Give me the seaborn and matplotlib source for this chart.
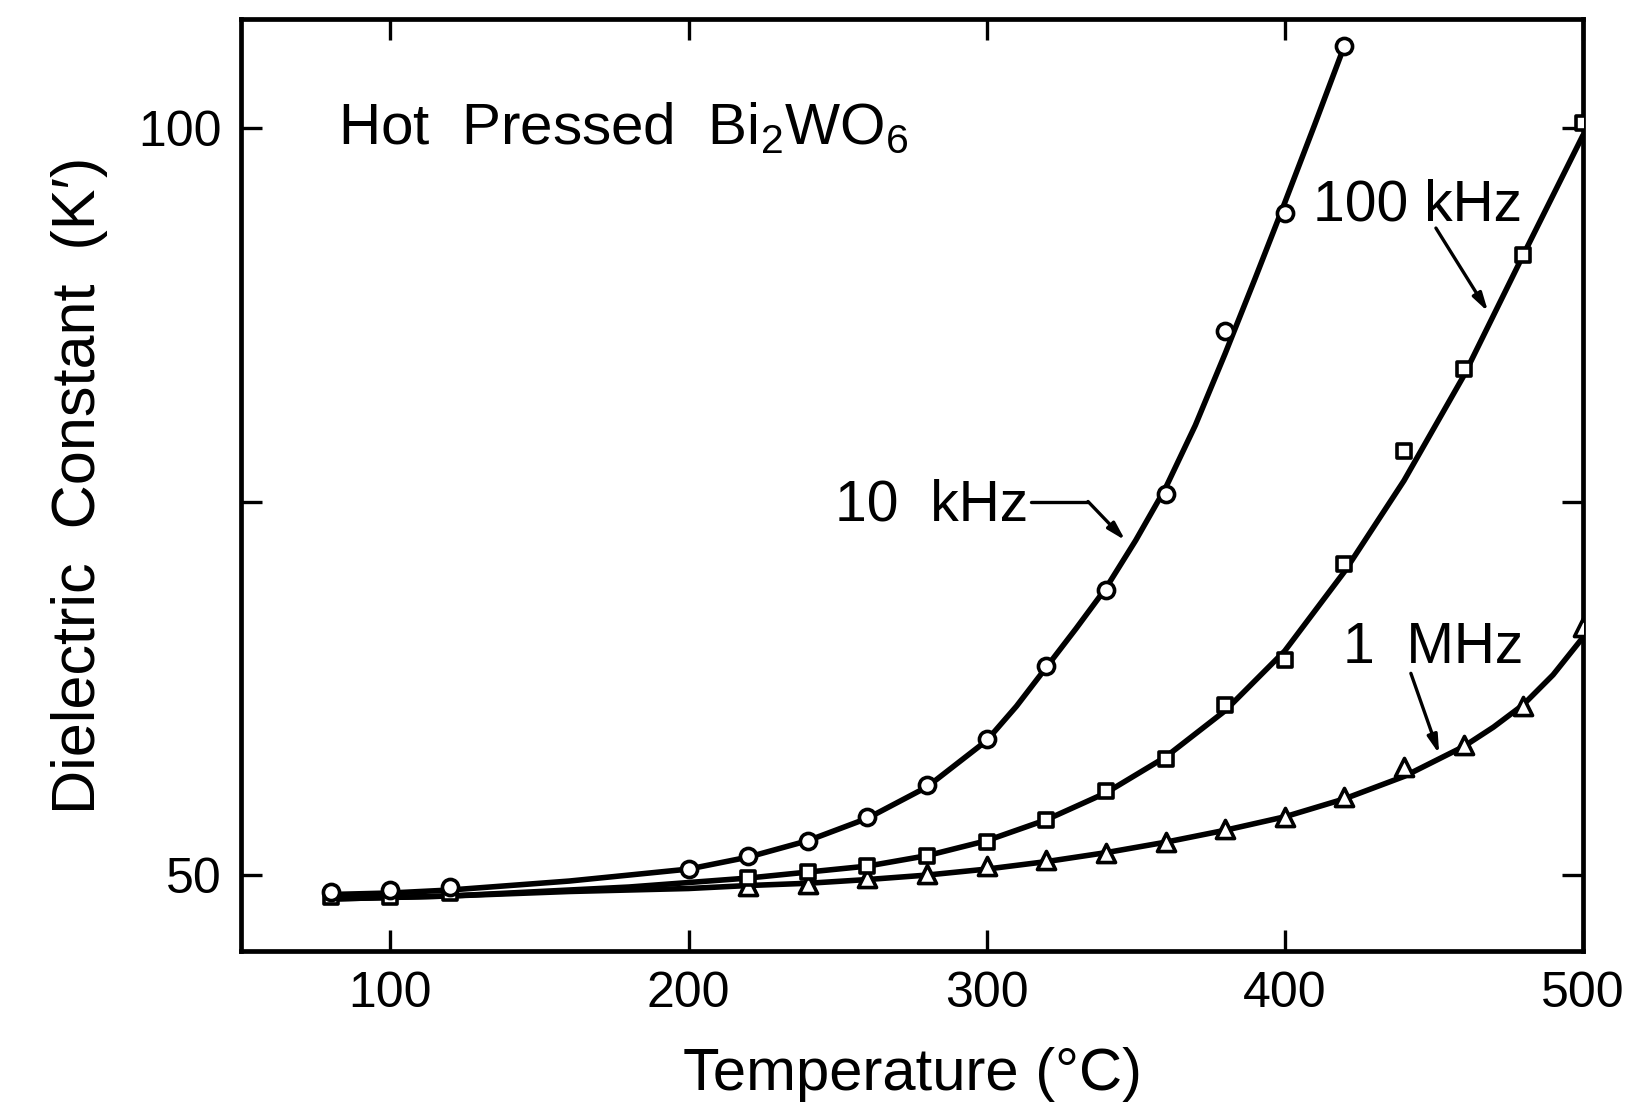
import matplotlib
matplotlib.use("Agg")
import matplotlib.pyplot as plt
import seaborn as sns

# ---------------- data ----------------
t_10k = [80, 100, 120, 200, 220, 240, 260, 280, 300, 320, 340, 360, 380, 400, 420]
k_10k = [48.9, 49.0, 49.2, 50.4, 51.3, 52.3, 53.9, 56.0, 59.1, 64.0, 69.1, 75.5, 86.4, 94.3, 105.5]

t_100k = [80, 100, 120, 220, 240, 260, 280, 300, 320, 340, 360, 380, 400, 420, 440, 460, 480, 500]
k_100k = [48.5, 48.5, 48.8, 49.8, 50.2, 50.6, 51.3, 52.2, 53.7, 55.6, 57.8, 61.4, 64.4, 70.8, 78.4, 83.9, 91.5, 100.3]

t_1m = [220, 240, 260, 280, 300, 320, 340, 360, 380, 400, 420, 440, 460, 480, 500]
k_1m = [49.3, 49.4, 49.8, 50.1, 50.6, 51.0, 51.5, 52.2, 53.1, 53.9, 55.2, 57.2, 58.7, 61.3, 66.6]

# hand-drawn smooth curves
ct_10k = [80, 100, 120, 140, 160, 180, 200, 220, 240, 260, 280, 300, 310, 320, 330, 340, 350, 360, 370, 380, 390, 400, 410, 420]
ck_10k = [48.7, 48.8, 49.0, 49.3, 49.6, 50.0, 50.4, 51.2, 52.3, 53.8, 55.9, 59.0, 61.3, 63.9, 66.5, 69.2, 72.4, 75.9, 80.1, 84.9, 89.9, 95.0, 100.2, 105.5]

ct_100k = [80, 100, 120, 140, 160, 180, 200, 220, 240, 260, 280, 300, 320, 340, 360, 380, 400, 420, 440, 460, 480, 500]
ck_100k = [48.4, 48.5, 48.6, 48.8, 49.0, 49.2, 49.5, 49.8, 50.2, 50.6, 51.3, 52.3, 53.7, 55.5, 57.9, 61.0, 65.0, 70.3, 76.4, 83.4, 91.5, 99.5]

ct_1m = [80, 120, 160, 200, 220, 240, 260, 280, 300, 320, 340, 360, 380, 400, 420, 440, 460, 470, 480, 490, 500]
ck_1m = [48.4, 48.6, 48.9, 49.1, 49.3, 49.45, 49.7, 50.0, 50.4, 50.9, 51.5, 52.2, 53.0, 53.9, 55.1, 56.6, 58.6, 59.9, 61.4, 63.4, 65.9]

x_ticks = [100, 200, 300, 400, 500]
y_ticks = [50, 75, 100]
y_tick_labels = ["50", "", "100"]

# ---------------- styling ----------------
sns.set_theme(style="ticks")
plt.rcParams["font.family"] = ["Liberation Sans", "DejaVu Sans"]
plt.rcParams["mathtext.fontset"] = "custom"
plt.rcParams["mathtext.rm"] = "Liberation Sans"
plt.rcParams["mathtext.it"] = "Liberation Sans:italic"
plt.rcParams["text.color"] = "black"
plt.rcParams["axes.labelcolor"] = "black"
plt.rcParams["xtick.color"] = "black"
plt.rcParams["ytick.color"] = "black"

fig = plt.figure(figsize=(16.42, 11.10), dpi=100)
ax = fig.add_axes([0.147, 0.143, 0.817, 0.840])

lw = 4.0
for ct, ck in [(ct_10k, ck_10k), (ct_100k, ck_100k), (ct_1m, ck_1m)]:
    sns.lineplot(x=ct, y=ck, ax=ax, color="black", linewidth=lw, sort=False,
                 estimator=None, zorder=2)

mk = dict(facecolor="white", edgecolor="black", linewidth=2.6, zorder=4, ax=ax, legend=False)
sns.scatterplot(x=t_1m, y=k_1m, marker="^", s=170, **mk)
sns.scatterplot(x=t_100k, y=k_100k, marker="s", s=110, **mk)
sns.scatterplot(x=t_10k, y=k_10k, marker="o", s=135, **mk)

ax.set_xlim(50, 500)
ax.set_ylim(44.9, 107.3)
ax.set_xticks(x_ticks)
ax.set_yticks(y_ticks)
ax.set_yticklabels(y_tick_labels)
ax.tick_params(direction="in", length=15, width=2.4, labelsize=36,
               top=True, right=True, pad=14)
for s in ax.spines.values():
    s.set_linewidth(3.4)
    s.set_color("black")

ax.set_xlabel("Temperature (°C)", fontsize=43, labelpad=22)
ax.set_ylabel("Dielectric  Constant  (K′)", fontsize=44, labelpad=22)

ax.text(82.3, 98.9, r"Hot  Pressed  $\mathregular{Bi_2WO_6}$", fontsize=42,
        ha="left", va="baseline")
ax.text(249, 73.7, "10  kHz", fontsize=41, ha="left", va="baseline")
ax.text(409.6, 93.8, "100 kHz", fontsize=41, ha="left", va="baseline")
ax.text(419.5, 64.2, "1  MHz", fontsize=41, ha="left", va="baseline")

arrow = dict(arrowstyle="-|>,head_length=0.9,head_width=0.25", color="black", lw=2.4,
             shrinkA=0, shrinkB=0)
ax.plot([315, 334], [75.0, 75.0], color="black", lw=2.4)
ax.annotate("", xy=(346.5, 72.4), xytext=(334, 75.0), arrowprops=arrow)
ax.annotate("", xy=(468.2, 87.7), xytext=(450.7, 93.3), arrowprops=arrow)
ax.annotate("", xy=(451.8, 58.1), xytext=(442.3, 63.5), arrowprops=arrow)

fig.savefig("out.png", dpi=100, facecolor="white")
